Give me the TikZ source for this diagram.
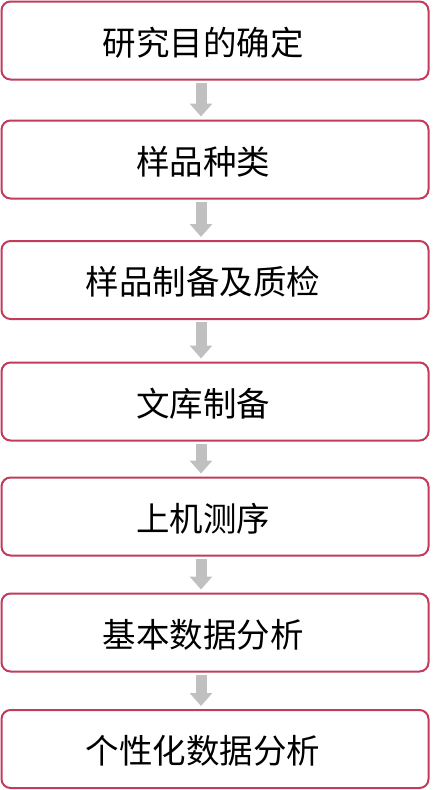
\documentclass[tikz,border=0pt]{standalone}
\usepackage{fontspec}
\newfontfamily\cjk{Noto Sans CJK SC}
\usetikzlibrary{arrows.meta}
\definecolor{boxred}{HTML}{C23B5A}
\definecolor{arrowgray}{HTML}{C0C0C0}

\begin{document}
\begin{tikzpicture}[x=1pt,y=-1pt]
      \tikzset{stepbox/.style={draw=boxred, line width=2pt, rounded corners=9pt,
          minimum width=427pt, minimum height=78pt, inner sep=0pt},
        steptext/.style={font=\cjk\fontsize{33.5}{38}\selectfont, inner sep=0pt},
        steparrow/.style={draw=arrowgray, line width=11pt,
          -{Triangle[width=22pt,length=13pt]}, shorten <=2pt, shorten >=3pt}}
      \useasboundingbox (0,0) rectangle (443,790);
      % boxes
      \node [stepbox] (b1) at (215,40.5) {};
      \node [stepbox] (b2) at (215,159.5) {};
      \node [stepbox] (b3) at (215,280) {};
      \node [stepbox] (b4) at (215,401.5) {};
      \node [stepbox] (b5) at (215,516.5) {};
      \node [stepbox] (b6) at (215,632.5) {};
      \node [stepbox] (b7) at (215,749) {};
      % texts
      \node [steptext] (t1) at ([xshift=-12pt,yshift=-2pt]b1) {研究目的确定};
      \node [steptext] (t2) at ([xshift=-12pt,yshift=-2pt]b2) {样品种类};
      \node [steptext] (t3) at ([xshift=-12pt,yshift=-2pt]b3) {样品制备及质检};
      \node [steptext] (t4) at ([xshift=-12pt,yshift=-2pt]b4) {文库制备};
      \node [steptext] (t5) at ([xshift=-12pt,yshift=-2pt]b5) {上机测序};
      \node [steptext] (t6) at ([xshift=-12pt,yshift=-2pt]b6) {基本数据分析};
      \node [steptext] (t7) at ([xshift=-12pt,yshift=-2pt]b7) {个性化数据分析};
      % arrows
      \draw [steparrow] ([xshift=-14pt]b1.south) -- ([xshift=-14pt]b2.north);
      \draw [steparrow] ([xshift=-14pt]b2.south) -- ([xshift=-14pt]b3.north);
      \draw [steparrow] ([xshift=-14pt]b3.south) -- ([xshift=-14pt]b4.north);
      \draw [steparrow] ([xshift=-14pt]b4.south) -- ([xshift=-14pt]b5.north);
      \draw [steparrow] ([xshift=-14pt]b5.south) -- ([xshift=-14pt]b6.north);
      \draw [steparrow] ([xshift=-14pt]b6.south) -- ([xshift=-14pt]b7.north);
\end{tikzpicture}
\end{document}
